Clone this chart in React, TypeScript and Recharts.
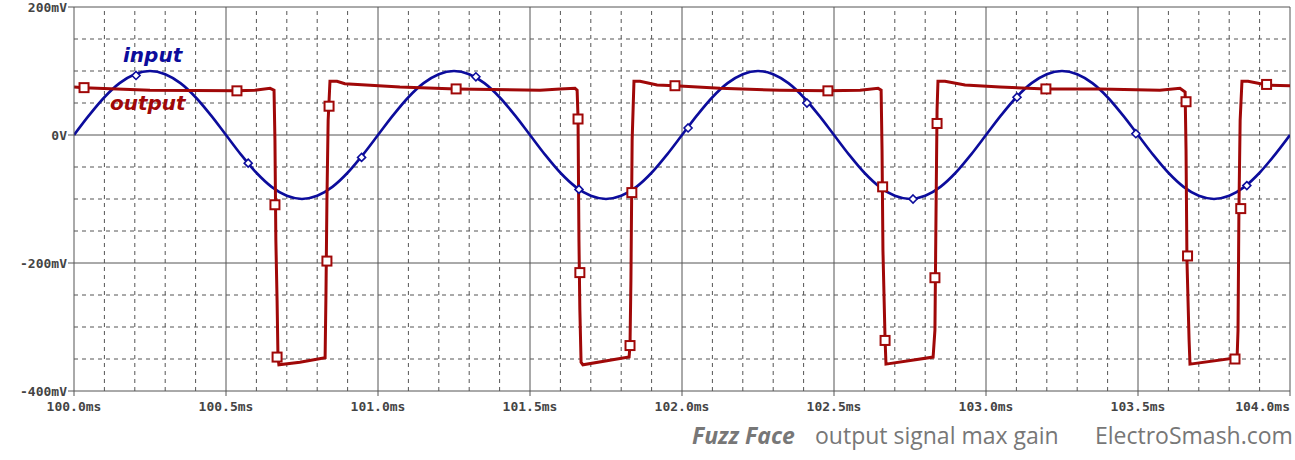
import React from 'react';
import { ComposedChart, Line, Scatter, XAxis, YAxis, ReferenceLine } from 'recharts';

// input sine, sampled every 0.05 ms from 100.00 to 104.00 ms (mV)
const inputMv = [
  0, 31, 59, 81, 95, 100, 95, 81, 59, 31, 0, -31, -59, -81, -95, -100, -95, -81, -59, -31,
  0, 31, 59, 81, 95, 100, 95, 81, 59, 31, 0, -31, -59, -81, -95, -100, -95, -81, -59, -31,
  0, 31, 59, 81, 95, 100, 95, 81, 59, 31, 0, -31, -59, -81, -95, -100, -95, -81, -59, -31,
  0, 31, 59, 81, 95, 100, 95, 81, 59, 31, 0, -31, -59, -81, -95, -100, -95, -81, -59, -31,
  0,
];
const inputStartMs = 100;
const inputStepMs = 0.05;

// output waveform [ms, mV]
const outputPts: [number, number][] = [
  [100.0, 75], [100.033, 74], [100.25, 70], [100.536, 69], [100.595, 70], [100.645, 73], [100.658, 70],
  [100.661, -8], [100.664, -164], [100.668, -258], [100.671, -347], [100.674, -359],
  [100.743, -355], [100.826, -348], [100.829, -242], [100.832, -102], [100.836, 23],
  [100.842, 84], [100.865, 84], [100.891, 80], [101.072, 75],
  [101.257, 72], [101.533, 70], [101.599, 72], [101.648, 73], [101.655, 70],
  [101.658, 27], [101.661, -164], [101.664, -273], [101.668, -355], [101.674, -359],
  [101.826, -347], [101.829, -328], [101.832, -227], [101.836, -8],
  [101.842, 84], [101.862, 84], [101.918, 78], [101.977, 77], [102.125, 73],
  [102.322, 70], [102.48, 69], [102.586, 70], [102.645, 73], [102.655, 70],
  [102.658, -23], [102.661, -180], [102.668, -320], [102.671, -358],
  [102.826, -347], [102.832, -305], [102.836, -102], [102.839, 39],
  [102.842, 84], [102.865, 84], [102.931, 78], [103.046, 75], [103.197, 72],
  [103.375, 72], [103.572, 70], [103.638, 73], [103.655, 67],
  [103.658, -23], [103.661, -195], [103.668, -320], [103.671, -358],
  [103.826, -348], [103.829, -305], [103.832, -116], [103.836, 23],
  [103.842, 84], [103.862, 84], [103.924, 78], [104.0, 77],
];

// marker positions [ms, mV]
const outputMarks: [number, number][] = [
  [100.033, 74], [100.536, 69], [100.661, -109], [100.668, -347], [100.832, -197], [100.839, 45],
  [101.257, 72], [101.658, 25], [101.664, -215], [101.829, -329], [101.835, -90], [101.977, 77],
  [102.48, 69], [102.66, -81], [102.668, -321], [102.832, -223], [102.839, 18],
  [103.197, 72], [103.658, 52], [103.663, -189], [103.819, -350], [103.838, -115], [103.923, 79],
];
const inputMarks: [number, number][] = [
  [100.204, 93], [100.573, -44], [100.946, -35], [101.322, 91], [101.661, -85], [102.02, 11],
  [102.411, 50], [102.76, -100], [103.102, 59], [103.493, 2], [103.858, -79],
];

const xTicks = [100, 100.5, 101, 101.5, 102, 102.5, 103, 103.5, 104];
const yTicks = [200, 0, -200, -400];
const minorX = [
  100.1, 100.2, 100.3, 100.4, 100.6, 100.7, 100.8, 100.9,
  101.1, 101.2, 101.3, 101.4, 101.6, 101.7, 101.8, 101.9,
  102.1, 102.2, 102.3, 102.4, 102.6, 102.7, 102.8, 102.9,
  103.1, 103.2, 103.3, 103.4, 103.6, 103.7, 103.8, 103.9,
];
const majorX = [100.5, 101, 101.5, 102, 102.5, 103, 103.5, 104];
const minorY = [150, 100, 50, -50, -100, -150, -250, -300, -350];
const majorY = [200, 0, -200];

const inputData = inputMv.map((v, i) => ({ t: inputStartMs + i * inputStepMs, v }));
const outputData = outputPts.map(([t, v]) => ({ t, v }));
const outMarkData = outputMarks.map(([t, v]) => ({ t, v }));
const inMarkData = inputMarks.map(([t, v]) => ({ t, v }));

const BLUE = '#0c0c9c';
const RED = '#a00808';
const GRID = '#555';
const MONO = '"DejaVu Sans Mono", "Liberation Mono", monospace';

const Square = (p: any) => (
  <rect x={p.cx - 4.5} y={p.cy - 4.5} width={9} height={9} fill="#fff" stroke={RED} strokeWidth={2} />
);
const Diamond = (p: any) => (
  <path d={`M${p.cx},${p.cy - 4}L${p.cx + 4},${p.cy}L${p.cx},${p.cy + 4}L${p.cx - 4},${p.cy}Z`} fill="#fff" stroke={BLUE} strokeWidth={1.6} />
);

const XTick = (p: any) => {
  const v = p.payload.value as number;
  const last = v === xTicks[xTicks.length - 1];
  return (
    <text x={p.x} y={p.y + 12} textAnchor={last ? 'end' : 'middle'} fill="#444"
      style={{ fontFamily: MONO, fontSize: 13, fontWeight: 'bold' }}>
      {`${v.toFixed(1)}ms`}
    </text>
  );
};

const YTick = (p: any) => {
  const v = p.payload.value as number;
  return (
    <text x={p.x} y={p.y + 4.5} textAnchor="end" fill="#444"
      style={{ fontFamily: MONO, fontSize: 13, fontWeight: 'bold' }}>
      {v === 0 ? '0V' : `${v}mV`}
    </text>
  );
};

export default function App() {
  return (
    <div style={{ position: 'absolute', left: 0, top: 0, width: 1295, height: 460, background: '#fff' }}>
      <ComposedChart width={1295} height={460} margin={{ top: 7, right: 5, left: 0, bottom: 39 }}>
        <XAxis
          dataKey="t"
          type="number"
          domain={[100, 104]}
          ticks={xTicks}
          interval={0}
          height={30}
          tickSize={5}
          tickMargin={3}
          stroke={GRID}
          tick={XTick}
          allowDataOverflow
        />
        <YAxis
          type="number"
          domain={[-400, 200]}
          ticks={yTicks}
          interval={0}
          width={74}
          tickSize={6}
          tickMargin={1}
          stroke={GRID}
          tick={YTick}
          allowDataOverflow
        />
        {minorX.map((x) => (
          <ReferenceLine key={`mx${x}`} x={x} stroke={GRID} strokeDasharray="4 4" />
        ))}
        {minorY.map((y) => (
          <ReferenceLine key={`my${y}`} y={y} stroke={GRID} strokeDasharray="4 4" />
        ))}
        {majorX.map((x) => (
          <ReferenceLine key={`Mx${x}`} x={x} stroke={GRID} />
        ))}
        {majorY.map((y) => (
          <ReferenceLine key={`My${y}`} y={y} stroke={GRID} />
        ))}
        <Line data={inputData} dataKey="v" type="monotone" stroke={BLUE} strokeWidth={2.6} dot={false} activeDot={false} isAnimationActive={false} />
        <Line data={outputData} dataKey="v" type="linear" stroke={RED} strokeWidth={3} dot={false} activeDot={false} isAnimationActive={false} />
        <Scatter data={inMarkData} dataKey="v" shape={Diamond} isAnimationActive={false} />
        <Scatter data={outMarkData} dataKey="v" shape={Square} isAnimationActive={false} />
      </ComposedChart>
      <div style={{ position: 'absolute', left: 123, top: 43, color: BLUE, font: 'italic bold 20px "DejaVu Sans"' }}>input</div>
      <div style={{ position: 'absolute', left: 110, top: 91, color: RED, font: 'italic bold 20px "DejaVu Sans"' }}>output</div>
      <div style={{ position: 'absolute', left: 692, top: 419, color: '#777', font: 'italic bold 23px "Open Sans"', whiteSpace: 'nowrap' }}>Fuzz Face</div>
      <div style={{ position: 'absolute', left: 815, top: 419, color: '#777', font: '23px "Open Sans"', whiteSpace: 'nowrap' }}>output signal max gain</div>
      <div style={{ position: 'absolute', left: 1095, top: 419, color: '#777', font: '23px "Open Sans"', whiteSpace: 'nowrap' }}>ElectroSmash.com</div>
    </div>
  );
}
